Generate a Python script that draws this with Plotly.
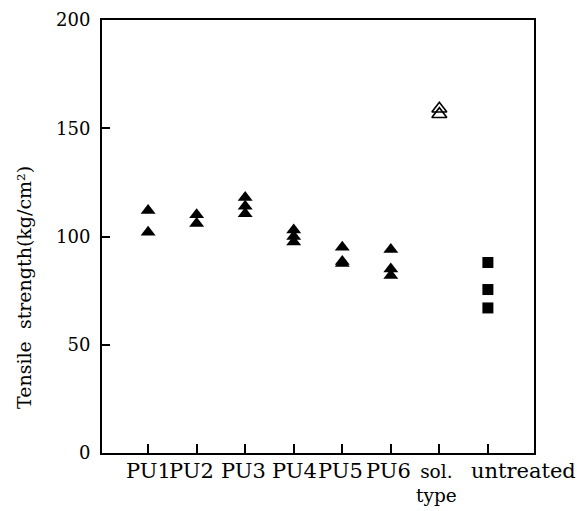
import plotly.graph_objects as go

categories = ["PU1", "PU2", "PU3", "PU4", "PU5", "PU6", "sol.<br>type", "untreated"]
# horizontal nudges (px) of the hand-set category labels in the original figure
label_nudge = [0, -5, -2, 1, -2, -2, -3, 36]

pu_x = ["PU1", "PU1", "PU2", "PU2", "PU3", "PU3", "PU3", "PU4", "PU4", "PU4",
        "PU5", "PU5", "PU5", "PU6", "PU6", "PU6"]
pu_y = [112, 102, 110, 106, 118, 114, 110.5, 103, 100, 97.5, 95, 88.5, 87.5, 94, 85, 82]

sol_x = ["sol.<br>type", "sol.<br>type"]
sol_y = [159, 156.5]

untreated_x = ["untreated", "untreated", "untreated"]
untreated_y = [88, 75.5, 67]

yticks = [0, 50, 100, 150, 200]

FONT = "DejaVu Serif, serif"

fig = go.Figure()
fig.add_trace(go.Scatter(x=pu_x, y=pu_y, mode="markers",
                         marker=dict(symbol="triangle-up", size=13, color="black",
                                     line=dict(width=0)),
                         showlegend=False))
fig.add_trace(go.Scatter(x=sol_x, y=sol_y, mode="markers",
                         marker=dict(symbol="triangle-up-open", size=13, color="black",
                                     line=dict(width=1.6, color="black")),
                         showlegend=False))
fig.add_trace(go.Scatter(x=untreated_x, y=untreated_y, mode="markers",
                         marker=dict(symbol="square", size=11, color="black",
                                     line=dict(width=0)),
                         showlegend=False))

annotations = []
for cat, nudge in zip(categories, label_nudge):
    if "<br>" in cat:
        annotations.append(dict(text=cat, x=cat, xref="x", y=0, yref="paper",
                                yanchor="top", xanchor="center", yshift=-6,
                                xshift=nudge, showarrow=False,
                                font=dict(family=FONT, size=18.5, color="black")))
    else:
        annotations.append(dict(text=cat, x=cat, xref="x", y=0, yref="paper",
                                yanchor="middle", xanchor="center", yshift=-18,
                                xshift=nudge, showarrow=False,
                                font=dict(family=FONT, size=21, color="black")))

annotations.append(dict(text="Tensile  strength(kg/cm²)", xref="paper", yref="paper",
                        x=(24 - 102) / 432, y=(453 - 288) / 433, textangle=-90,
                        showarrow=False, xanchor="center", yanchor="middle",
                        font=dict(family=FONT, size=19, color="black")))

fig.update_layout(
    width=581, height=511,
    margin=dict(l=102, r=47, t=20, b=58),
    paper_bgcolor="white", plot_bgcolor="white",
    font=dict(family=FONT, color="black"),
    xaxis=dict(type="category", categoryorder="array", categoryarray=categories,
               tickvals=categories, showticklabels=False, automargin=False,
               range=[-0.95, 7.95], showgrid=False, zeroline=False,
               showline=True, linecolor="black", linewidth=2, mirror=True,
               ticks="inside", ticklen=9, tickwidth=2, tickcolor="black"),
    yaxis=dict(range=[0, 200], tickvals=yticks, showgrid=False, zeroline=False,
               automargin=False,
               showline=True, linecolor="black", linewidth=2, mirror=True,
               ticks="inside", ticklen=8, tickwidth=2, tickcolor="black",
               tickfont=dict(family=FONT, size=18, color="black"),
               ticklabelstandoff=6),
    annotations=annotations,
)

fig.write_html("out.html")
